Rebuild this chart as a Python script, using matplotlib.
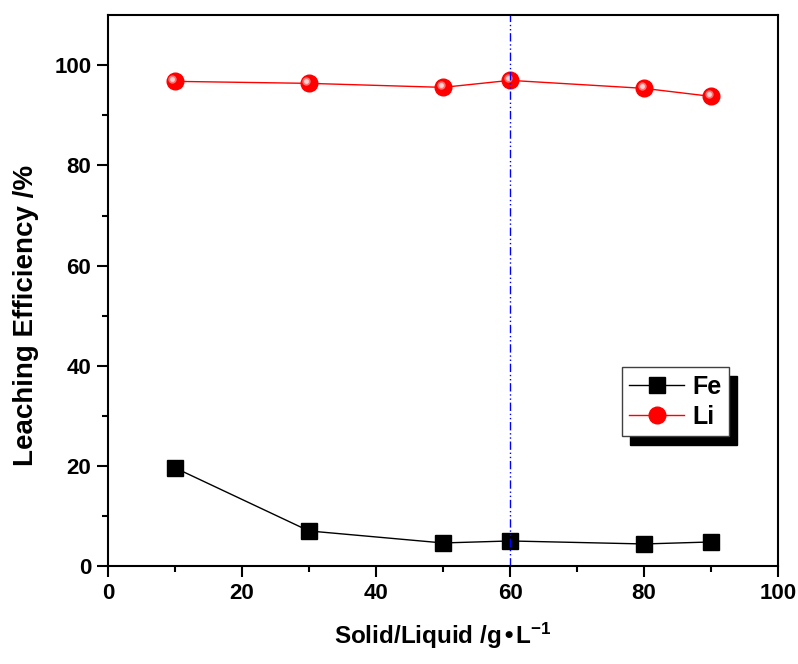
import numpy as np
import matplotlib
matplotlib.use("Agg")
import matplotlib.pyplot as plt
from matplotlib.patches import Shadow
from matplotlib.transforms import offset_copy

plt.rcParams['font.family'] = ['Liberation Sans', 'DejaVu Sans']
plt.rcParams['font.weight'] = 'bold'
plt.rcParams['mathtext.default'] = 'regular'

ratio = [10, 30, 50, 60, 80, 90]
fe = [19.6, 7.0, 4.6, 5.0, 4.4, 4.8]
li = [96.8, 96.4, 95.6, 97.0, 95.4, 93.8]

fig = plt.figure(figsize=(7.98, 6.64), dpi=100)
ax = fig.add_axes([0.1353, 0.1476, 0.8397, 0.8294])

ax.plot(ratio, fe, color='black', lw=1, marker='s', ms=11.5, mfc='black', mec='black', label='Fe')
ax.plot(ratio, li, color='red', lw=1, marker='o', ms=12, mfc='red', mec='red', label='Li')
# glossy highlight on the red balls
hl = offset_copy(ax.transData, fig=fig, x=-2.5, y=2.5, units='dots')
ax.plot(ratio, li, ls='none', marker='o', ms=6, mfc='#ff7070', mec='none', transform=hl)
ax.plot(ratio, li, ls='none', marker='o', ms=3.5, mfc='#ffd0d0', mec='none', transform=hl)
ax.axvline(60, color='blue', lw=1, linestyle=(0, (6, 2, 1, 2, 1, 2)))

ax.set_xlim(0, 100)
ax.set_ylim(0, 110)
ax.set_xticks(np.arange(0, 101, 20))
ax.set_xticks(np.arange(10, 100, 20), minor=True)
ax.set_yticks(np.arange(0, 101, 20))
ax.set_yticks(np.arange(10, 110, 20), minor=True)
ax.tick_params(which='major', direction='out', length=8, width=1.5, labelsize=16, pad=4,
               top=False, right=False)
ax.tick_params(which='minor', direction='out', length=4, width=1.5, top=False, right=False)
for lab in ax.get_xticklabels() + ax.get_yticklabels():
    lab.set_fontweight('bold')
for s in ax.spines.values():
    s.set_linewidth(1.5)

ax.set_xlabel('Solid/Liquid /g\u2022L$^{-1}$', fontsize=17.5, fontweight='bold', labelpad=12)
ax.set_ylabel('Leaching Efficiency /%', fontsize=20, fontweight='bold')
ax.yaxis.set_label_coords(-0.103, 0.455)

leg = ax.legend(loc='upper left', bbox_to_anchor=(0.767, 0.361), borderaxespad=0, fontsize=18,
                frameon=True, fancybox=False, shadow=False, borderpad=0.3, handlelength=2.2,
                handletextpad=0.3, labelspacing=0.25, framealpha=1)
leg.get_frame().set_edgecolor('#404040')
leg.get_frame().set_linewidth(1)

fig.canvas.draw()
sh = Shadow(leg.legendPatch, 6, -6, facecolor='black', edgecolor='black', alpha=1)
sh.set_zorder(leg.get_zorder() - 0.1)
ax.add_artist(sh)

fig.savefig('out.png', dpi=100)
